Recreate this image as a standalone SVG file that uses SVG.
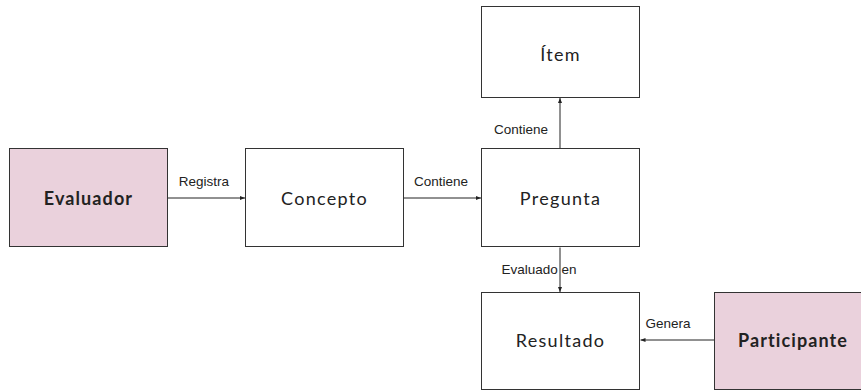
<svg xmlns="http://www.w3.org/2000/svg" width="861" height="391" viewBox="0 0 861 391">
  <style>
    .box { fill: #ffffff; stroke: #333333; stroke-width: 1; }
    .actor { fill: #ead1dc; stroke: #333333; stroke-width: 1; }
    .name { font-family: "Lato", "Noto Sans", sans-serif; font-size: 18px; fill: #222222; text-anchor: middle; dominant-baseline: central; letter-spacing: 1.3px; }
    .bold { font-weight: bold; letter-spacing: 1.1px; }
    .edge { stroke: #222222; stroke-width: 1; fill: none; marker-end: url(#arrow); }
    .label { font-family: "Liberation Sans", Arial, sans-serif; font-size: 13.5px; fill: #222222; text-anchor: middle; }
  </style>
  <defs>
    <marker id="arrow" viewBox="0 0 10 10" refX="10" refY="5" markerWidth="5" markerHeight="5" orient="auto" markerUnits="userSpaceOnUse">
      <path d="M0,1 L10,5 L0,9 z" fill="#222222"/>
    </marker>
  </defs>

  <rect width="861" height="391" fill="#ffffff"/>

  <g id="connectors">
    <line class="edge" x1="167.5" y1="198" x2="245" y2="198"/>
    <line class="edge" x1="403.5" y1="198" x2="481" y2="198"/>
    <line class="edge" x1="560" y1="148.5" x2="560" y2="98"/>
    <line class="edge" x1="560" y1="247.5" x2="560" y2="292"/>
    <line class="edge" x1="714" y1="340" x2="640.5" y2="340"/>
    <text class="label" x="204" y="186">Registra</text>
    <text class="label" x="441" y="186">Contiene</text>
    <text class="label" x="521" y="134">Contiene</text>
    <text class="label" x="539" y="274">Evaluado en</text>
    <text class="label" x="668" y="328">Genera</text>
  </g>

  <g id="evaluador">
    <rect class="actor" x="9.5" y="148.5" width="158" height="98"/>
    <text class="name bold" x="88.5" y="197.5">Evaluador</text>
  </g>

  <g id="concepto">
    <rect class="box" x="245.5" y="148.5" width="158" height="98"/>
    <text class="name" x="324.5" y="197.5">Concepto</text>
  </g>

  <g id="pregunta">
    <rect class="box" x="481.5" y="148.5" width="158" height="98"/>
    <text class="name" x="560.5" y="197.5">Pregunta</text>
  </g>

  <g id="item">
    <rect class="box" x="481.5" y="6.5" width="158" height="91"/>
    <text class="name" x="560.5" y="54">Ítem</text>
  </g>

  <g id="resultado">
    <rect class="box" x="481.5" y="292.5" width="158" height="97"/>
    <text class="name" x="560.5" y="340">Resultado</text>
  </g>

  <g id="participante">
    <rect class="actor" x="714.5" y="292.5" width="158" height="97"/>
    <text class="name bold" x="793" y="340">Participante</text>
  </g>
</svg>
